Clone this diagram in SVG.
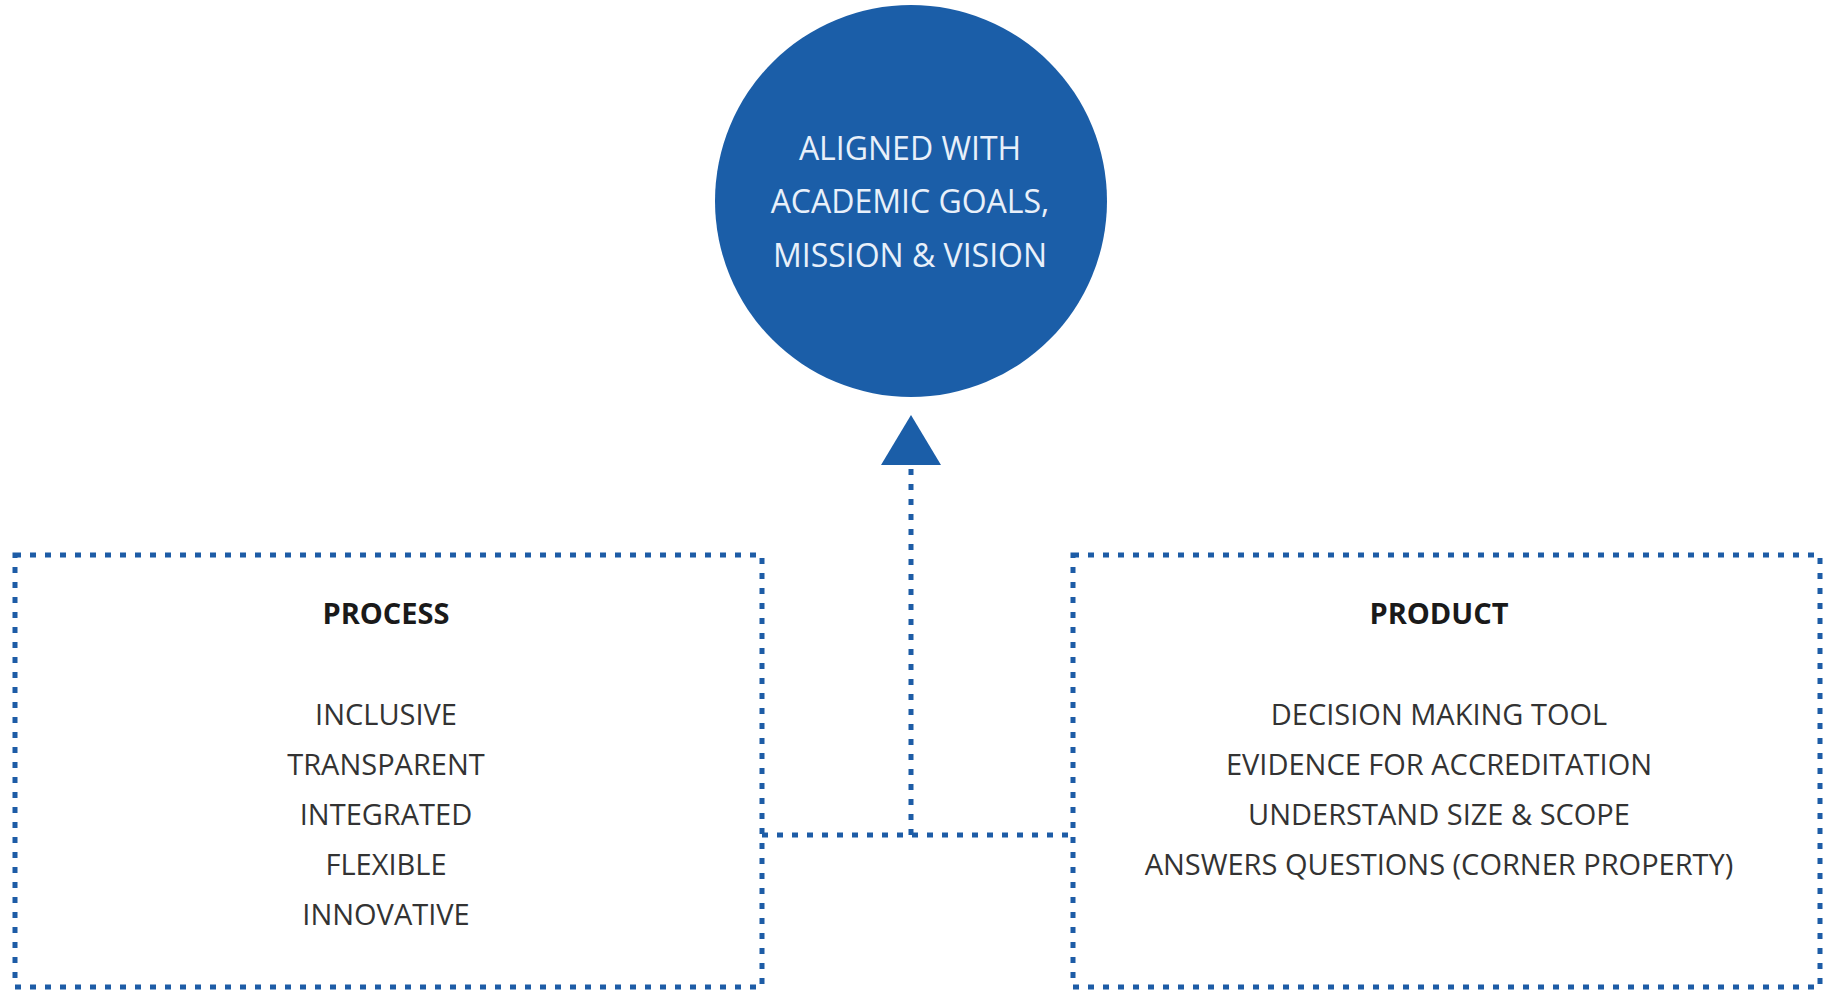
<svg xmlns="http://www.w3.org/2000/svg" width="1833" height="992" viewBox="0 0 1833 992">
<style>
.dot{fill:none;stroke:#1d5ca6;stroke-width:5;stroke-dasharray:6 9}
.hd{font-family:"Open Sans","Liberation Sans",sans-serif;font-size:29px;font-weight:bold;fill:#1a1a1a;text-anchor:middle}
.it{font-family:"Open Sans","Liberation Sans",sans-serif;font-size:29px;fill:#333;text-anchor:middle}
.ct{font-family:"Open Sans","Liberation Sans",sans-serif;font-size:32px;fill:#e8f0fa;text-anchor:middle}
</style>
<rect width="1833" height="992" fill="#fff"/>
<g id="goal">
<circle cx="911" cy="201" r="196" fill="#1b5ea8"/>
<text class="ct" x="910" y="160">ALIGNED WITH</text>
<text class="ct" x="910" y="213">ACADEMIC GOALS,</text>
<text class="ct" x="910" y="267">MISSION &amp; VISION</text>
</g>
<g id="process">
<rect class="dot" x="15" y="555" width="747" height="432"/>
<text class="hd" x="386" y="624">PROCESS</text>
<text class="it" x="386" y="725">INCLUSIVE</text>
<text class="it" x="386" y="775">TRANSPARENT</text>
<text class="it" x="386" y="825">INTEGRATED</text>
<text class="it" x="386" y="875">FLEXIBLE</text>
<text class="it" x="386" y="925">INNOVATIVE</text>
</g>
<g id="product">
<rect class="dot" x="1073" y="555" width="747" height="432"/>
<text class="hd" x="1439" y="624">PRODUCT</text>
<text class="it" x="1439" y="725">DECISION MAKING TOOL</text>
<text class="it" x="1439" y="775">EVIDENCE FOR ACCREDITATION</text>
<text class="it" x="1439" y="825">UNDERSTAND SIZE &amp; SCOPE</text>
<text class="it" x="1439" y="875">ANSWERS QUESTIONS (CORNER PROPERTY)</text>
</g>
<g id="connectors">
<path class="dot" d="M762 835 H1073"/>
<path class="dot" d="M911 835 V466"/>
<polygon points="911,415 881,465 941,465" fill="#1b5ea8"/>
</g>
</svg>
